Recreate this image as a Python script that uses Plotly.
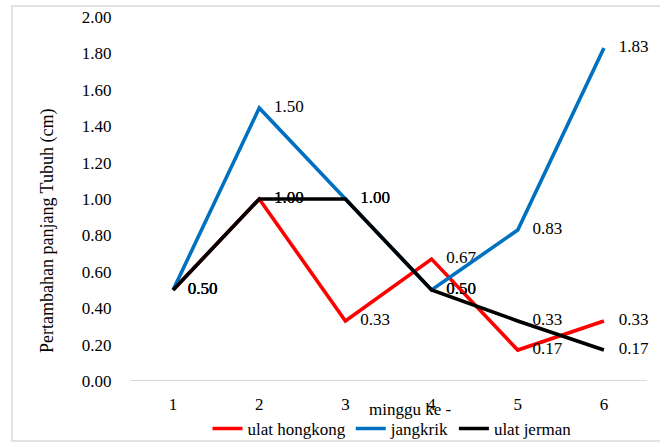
import plotly.graph_objects as go

# Weekly body-length gain (cm) for three feed types
weeks = [1, 2, 3, 4, 5, 6]
ulat_hongkong = [0.50, 1.00, 0.33, 0.67, 0.17, 0.33]
jangkrik = [0.50, 1.50, 1.00, 0.50, 0.83, 1.83]
ulat_jerman = [0.50, 1.00, 1.00, 0.50, 0.33, 0.17]

series = [
    ("ulat hongkong", ulat_hongkong, "#FF0000"),
    ("jangkrik", jangkrik, "#0070C0"),
    ("ulat jerman", ulat_jerman, "#000000"),
]

FONT = "Liberation Serif"

fig = go.Figure()
for name, values, color in series:
    # data line with value labels (invisible markers give the labels their offset)
    fig.add_trace(go.Scatter(
        x=weeks,
        y=values,
        name=name,
        showlegend=False,
        mode="lines+markers+text",
        line=dict(color=color, width=3.6),
        marker=dict(size=22, opacity=0),
        text=[f"{v:.2f}" for v in values],
        textposition="middle right",
        textfont=dict(family=FONT, size=17, color="#000000"),
        cliponaxis=False,
        hoverinfo="x+y+name",
    ))
for name, values, color in series:
    # plain line entry for the legend
    fig.add_trace(go.Scatter(
        x=[None],
        y=[None],
        name=name,
        mode="lines",
        line=dict(color=color, width=3.6),
        showlegend=True,
    ))

W, H = 660, 443
L, R, T, B = 130, 13, 17, 62
pw, ph = W - L - R, H - T - B


def px_x(x):
    return (x - L) / pw


def px_y(y):
    return (H - B - y) / ph


fig.update_layout(
    width=W,
    height=H,
    margin=dict(l=L, r=R, t=T, b=B, autoexpand=False),
    paper_bgcolor="white",
    plot_bgcolor="white",
    font=dict(family=FONT, size=17, color="#000000"),
    showlegend=True,
    legend=dict(
        orientation="h",
        x=px_x(392),
        xanchor="center",
        y=px_y(429),
        yanchor="middle",
        font=dict(family=FONT, size=17, color="#000000"),
        itemwidth=30,
        tracegroupgap=0,
        bgcolor="rgba(0,0,0,0)",
    ),
    xaxis=dict(
        range=[0.5, 6.5],
        tickmode="array",
        tickvals=weeks,
        ticktext=[str(w) for w in weeks],
        showgrid=False,
        zeroline=False,
        showline=False,
        ticks="outside",
        ticklen=8,
        tickcolor="rgba(0,0,0,0)",
        tickfont=dict(family=FONT, size=17),
    ),
    yaxis=dict(
        range=[0, 2.0],
        dtick=0.2,
        tick0=0,
        tickformat=".2f",
        showgrid=False,
        zeroline=False,
        showline=False,
        ticks="outside",
        ticklen=14,
        tickcolor="rgba(0,0,0,0)",
        tickfont=dict(family=FONT, size=17),
    ),
    shapes=[
        # horizontal baseline of the category axis
        dict(type="line", xref="paper", yref="y", x0=0, x1=1, y0=0, y1=0,
             line=dict(color="#D9D9D9", width=2), layer="below"),
        # chart-area border
        dict(type="rect", xref="paper", yref="paper",
             x0=px_x(12), x1=px_x(664), y0=px_y(441), y1=px_y(6),
             line=dict(color="#D9D9D9", width=1.5), layer="below"),
    ],
    annotations=[
        dict(text="Pertambahan panjang Tubuh (cm)", xref="paper", yref="paper",
             x=px_x(47), y=px_y(231), xanchor="center", yanchor="middle",
             textangle=-90, showarrow=False,
             font=dict(family=FONT, size=18, color="#000000")),
        dict(text="minggu ke -", xref="paper", yref="paper",
             x=px_x(410), y=px_y(409), xanchor="center", yanchor="middle",
             showarrow=False,
             font=dict(family=FONT, size=17, color="#000000")),
    ],
)

fig.write_html("out.html")
